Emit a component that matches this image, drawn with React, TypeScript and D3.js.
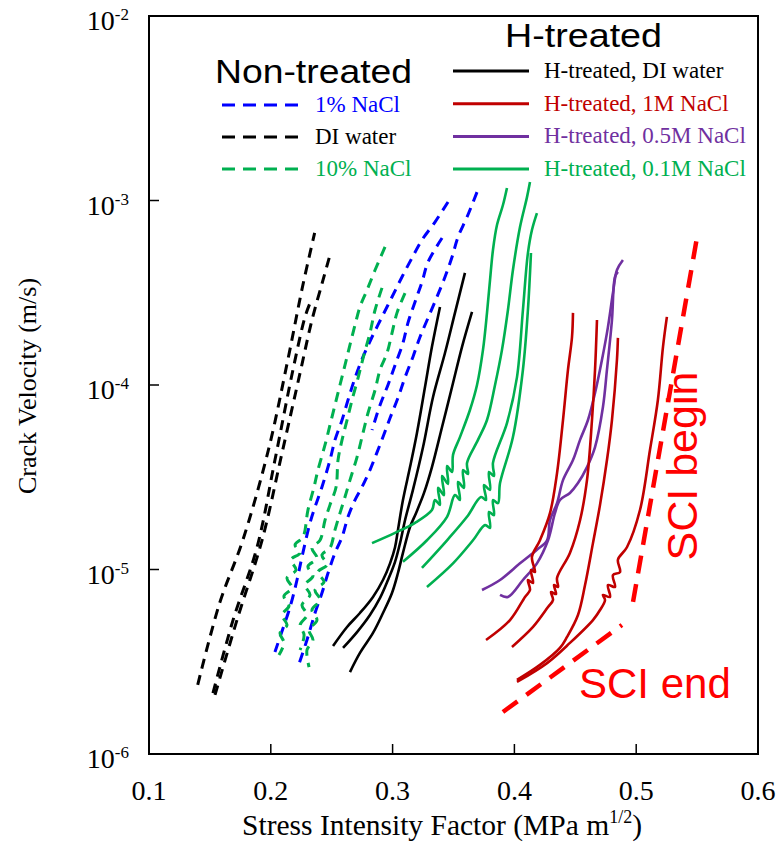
import React from "react";
import * as d3 from "d3";

// ---------- data (K in MPa·m^1/2, crack velocity in m/s) ----------
const xTicks = [0.1, 0.2, 0.3, 0.4, 0.5, 0.6];
const yExps = [-2, -3, -4, -5, -6];

// Non-treated, DI water (black dashed)
const nonDI1 = [[0.140,2.37e-6],[0.158,6.58e-6],[0.177,1.44e-5],[0.198,4.44e-5],[0.214,1.37e-4],[0.226,3.40e-4],[0.236,6.67e-4]];
const nonDI2 = [[0.1525,2.14e-6],[0.169,5.32e-6],[0.1887,1.32e-5],[0.2034,3.92e-5],[0.2182,1.21e-4],[0.2281,2.34e-4],[0.2322,2.78e-4]];
const nonDI3 = [[0.1542,2.09e-6],[0.1722,5.32e-6],[0.1928,1.44e-5],[0.2092,4.28e-5],[0.224,1.16e-4],[0.2338,2.25e-4],[0.2429,3.71e-4],[0.2486,5.07e-4]];

// Non-treated, 1% NaCl (blue dashed)
const nacl1A = [[0.3455,9.82e-4],[0.3348,7.64e-4],[0.3241,6.11e-4],[0.3159,4.88e-4],[0.3077,3.85e-4],[0.2995,3.00e-4],[0.2913,2.34e-4],[0.2831,1.82e-4],[0.2757,1.42e-4],[0.2691,1.09e-4],[0.2634,8.29e-5],[0.2585,6.46e-5],[0.2527,5.04e-5],[0.2486,3.92e-5],[0.2420,2.80e-5],[0.2363,2.18e-5],[0.2322,1.79e-5],[0.2256,1.17e-5],[0.2215,8.77e-6],[0.2158,6.26e-6],[0.2076,4.31e-6],[0.2034,3.57e-6]];
const nacl1B = [[0.3406,6.26e-4],[0.3291,4.64e-4],[0.3241,3.61e-4],[0.3184,2.82e-4],[0.3126,2.17e-4],[0.3085,1.69e-4],[0.3020,1.28e-4],[0.2962,1.00e-4],[0.2897,7.79e-5],[0.2831,5.70e-5]];
const nacl1C = [[0.3693,1.11e-3],[0.3611,8.14e-4],[0.3537,6.34e-4],[0.3488,4.94e-4],[0.3430,3.85e-4],[0.3364,3.00e-4],[0.3291,2.31e-4],[0.3225,1.82e-4],[0.3167,1.42e-4],[0.3102,1.10e-4],[0.3044,8.51e-5],[0.2979,6.62e-5],[0.2921,5.22e-5],[0.2864,4.18e-5],[0.2814,3.46e-5],[0.2749,2.80e-5],[0.2691,2.38e-5],[0.2634,1.93e-5],[0.2585,1.50e-5],[0.2527,1.23e-5],[0.2470,9.57e-6],[0.2420,7.46e-6],[0.2363,5.81e-6],[0.2297,4.15e-6],[0.2223,2.96e-6]];

// Non-treated, 10% NaCl (green dashed)
const nacl10A = [[0.2938,5.60e-4],[0.2856,4.20e-4],[0.2790,3.27e-4],[0.2732,2.65e-4],[0.2691,2.11e-4],[0.2650,1.65e-4],[0.2609,1.28e-4],[0.2568,1.00e-4],[0.2527,7.79e-5],[0.2486,6.07e-5],[0.2445,4.73e-5],[0.2387,3.46e-5],[0.2355,2.80e-5],[0.2305,2.10e-5],[0.2264,1.50e-5],[0.2199,1.36e-5],[0.2240,1.23e-5],[0.2166,1.13e-5],[0.2207,9.94e-6],[0.2133,8.99e-6],[0.2174,7.94e-6],[0.2108,7.18e-6],[0.2149,6.34e-6],[0.2092,5.67e-6],[0.2133,5.00e-6],[0.2076,4.53e-6],[0.2108,4.00e-6],[0.2067,3.44e-6]];
const nacl10B = [[0.2913,3.36e-4],[0.2856,2.55e-4],[0.2814,1.91e-4],[0.2765,1.46e-4],[0.2716,1.09e-4],[0.2667,8.29e-5],[0.2626,6.46e-5],[0.2585,5.04e-5],[0.2552,3.92e-5],[0.2536,2.80e-5],[0.2486,2.24e-5],[0.2445,1.85e-5],[0.2404,1.44e-5],[0.2338,1.31e-5],[0.2379,1.15e-5],[0.2305,1.04e-5],[0.2346,9.22e-6],[0.2281,8.24e-6],[0.2322,7.28e-6],[0.2256,6.42e-6],[0.2297,5.67e-6],[0.2240,5.00e-6],[0.2273,4.42e-6],[0.2240,3.66e-6]];
const nacl10C = [[0.3102,3.15e-4],[0.3036,2.46e-4],[0.2995,1.91e-4],[0.2954,1.49e-4],[0.2897,1.21e-4],[0.2856,9.39e-5],[0.2798,7.05e-5],[0.2757,5.50e-5],[0.2708,4.07e-5],[0.2650,3.05e-5],[0.2609,2.47e-5],[0.2568,2.02e-5],[0.2527,1.64e-5],[0.2486,1.31e-5],[0.2420,1.20e-5],[0.2461,1.06e-5],[0.2387,9.69e-6],[0.2437,8.56e-6],[0.2363,7.74e-6],[0.2404,6.84e-6],[0.2338,6.03e-6],[0.2379,5.32e-6],[0.2314,4.70e-6],[0.2346,4.15e-6],[0.2297,3.66e-6],[0.2314,2.96e-6]];

// H-treated, DI water (black solid)
const hDI1 = [[0.2511,3.85e-6],[0.2626,4.88e-6],[0.2732,5.81e-6],[0.2839,7.10e-6],[0.2921,8.77e-6],[0.2979,1.08e-5],[0.3020,1.32e-5],[0.3044,1.64e-5],[0.3085,2.38e-5],[0.3143,3.59e-5],[0.3200,5.50e-5],[0.3266,9.75e-5],[0.3323,1.61e-4],[0.3389,2.65e-4]];
const hDI2 = [[0.2593,3.76e-6],[0.2708,4.58e-6],[0.2814,5.67e-6],[0.2897,7.01e-6],[0.2962,8.77e-6],[0.3020,1.10e-5],[0.3061,1.39e-5],[0.3102,1.85e-5],[0.3167,2.70e-5],[0.3250,4.61e-5],[0.3332,8.61e-5],[0.3430,1.49e-4],[0.3512,2.46e-4],[0.3594,4.05e-4]];
const hDI3 = [[0.2650,2.78e-6],[0.2732,3.53e-6],[0.2839,4.53e-6],[0.2921,5.81e-6],[0.2995,7.46e-6],[0.3044,9.57e-6],[0.3085,1.23e-5],[0.3143,1.70e-5],[0.3192,2.02e-5],[0.3258,2.60e-5],[0.3323,3.59e-5],[0.3406,5.92e-5],[0.3488,9.75e-5],[0.3570,1.61e-4],[0.3652,2.49e-4]];

// H-treated, 1M NaCl (dark red solid)
const h1M_A = [[0.3767,4.15e-6],[0.3964,5.32e-6],[0.4087,7.10e-6],[0.4128,7.74e-6],[0.4111,8.77e-6],[0.4153,8.45e-6],[0.4136,9.94e-6],[0.4169,9.69e-6],[0.4144,1.17e-5],[0.4210,1.44e-5],[0.4292,2.02e-5],[0.4350,3.33e-5],[0.4399,6.46e-5],[0.4440,1.21e-4],[0.4473,1.82e-4],[0.4481,2.46e-4]];
const h1M_B = [[0.3980,3.80e-6],[0.4153,4.88e-6],[0.4276,6.26e-6],[0.4317,6.84e-6],[0.4301,7.55e-6],[0.4342,7.36e-6],[0.4325,8.24e-6],[0.4358,8.04e-6],[0.4350,8.99e-6],[0.4456,1.23e-5],[0.4539,1.85e-5],[0.4596,3.05e-5],[0.4637,6.46e-5],[0.4662,1.21e-4],[0.4678,2.25e-4]];
const h1M_C = [[0.4021,2.52e-6],[0.4210,3.04e-6],[0.4374,3.76e-6],[0.4432,4.31e-6],[0.4522,5.67e-6],[0.4580,8.24e-6],[0.4645,1.39e-5],[0.4703,2.24e-5],[0.4760,3.92e-5],[0.4801,6.46e-5],[0.4842,1.37e-4],[0.4850,1.80e-4]];
const h1M_D = [[0.4021,2.46e-6],[0.4268,3.11e-6],[0.4456,4.00e-6],[0.4645,5.32e-6],[0.4703,6.03e-6],[0.4744,6.84e-6],[0.4727,7.28e-6],[0.4785,7.10e-6],[0.4768,8.24e-6],[0.4826,8.04e-6],[0.4809,9.33e-6],[0.4867,9.69e-6],[0.4850,1.13e-5],[0.4924,1.32e-5],[0.5031,2.10e-5],[0.5113,4.44e-5],[0.5178,8.29e-5],[0.5220,1.61e-4],[0.5252,2.34e-4]];

// H-treated, 0.5M NaCl (purple solid)
const h05M_A = [[0.3734,7.74e-6],[0.3882,8.77e-6],[0.4046,1.08e-5],[0.4185,1.28e-5],[0.4268,1.44e-5],[0.4292,1.85e-5],[0.4350,2.29e-5],[0.4399,3.05e-5],[0.4481,3.92e-5],[0.4539,5.04e-5],[0.4604,6.46e-5],[0.4662,9.05e-5],[0.4719,1.37e-4],[0.4768,2.06e-4],[0.4809,3.15e-4],[0.4842,4.20e-4],[0.4891,4.76e-4]];
const h05M_B = [[0.3882,7.28e-6],[0.3947,7.10e-6],[0.4070,8.77e-6],[0.4185,1.08e-5],[0.4276,1.44e-5],[0.4333,2.02e-5],[0.4374,2.38e-5],[0.4456,2.60e-5],[0.4522,2.94e-5],[0.4596,3.59e-5],[0.4662,4.61e-5],[0.4727,7.60e-5],[0.4760,1.21e-4],[0.4801,2.25e-4],[0.4826,3.85e-4],[0.4850,4.10e-4]];

// H-treated, 0.1M NaCl (green solid)
const h01M_A = [[0.2831,1.39e-5],[0.3020,1.58e-5],[0.3184,1.79e-5],[0.3323,2.10e-5],[0.3348,2.38e-5],[0.3389,2.24e-5],[0.3373,2.77e-5],[0.3422,2.53e-5],[0.3406,3.21e-5],[0.3455,2.91e-5],[0.3447,3.64e-5],[0.3488,3.38e-5],[0.3496,4.18e-5],[0.3553,5.22e-5],[0.3635,7.32e-5],[0.3693,1.00e-4],[0.3742,1.55e-4],[0.3775,2.46e-4],[0.3800,3.71e-4],[0.3824,5.39e-4],[0.3857,7.36e-4],[0.3906,9.45e-4],[0.3939,1.17e-3]];
const h01M_B = [[0.3085,1.10e-5],[0.3282,1.44e-5],[0.3447,1.93e-5],[0.3512,2.53e-5],[0.3553,2.38e-5],[0.3537,2.98e-5],[0.3586,2.77e-5],[0.3578,3.46e-5],[0.3619,3.29e-5],[0.3611,3.78e-5],[0.3701,5.04e-5],[0.3775,6.46e-5],[0.3841,1.00e-4],[0.3898,1.55e-4],[0.3947,2.55e-4],[0.3988,4.20e-4],[0.4046,7.18e-4],[0.4103,1.04e-3],[0.4128,1.26e-3]];
const h01M_C = [[0.3241,1.02e-5],[0.3447,1.44e-5],[0.3611,1.93e-5],[0.3726,2.47e-5],[0.3767,2.38e-5],[0.3750,2.87e-5],[0.3800,2.70e-5],[0.3791,3.38e-5],[0.3832,3.21e-5],[0.3824,3.78e-5],[0.3939,6.22e-5],[0.4021,1.10e-4],[0.4070,2.55e-4],[0.4111,5.19e-4],[0.4144,6.92e-4],[0.4185,8.55e-4]];
const h01M_D = [[0.3282,8.04e-6],[0.3496,1.08e-5],[0.3660,1.44e-5],[0.3759,1.74e-5],[0.3800,1.68e-5],[0.3791,2.05e-5],[0.3832,1.97e-5],[0.3824,2.38e-5],[0.3865,2.29e-5],[0.3882,2.94e-5],[0.3988,5.22e-5],[0.4070,1.21e-4],[0.4111,2.55e-4],[0.4136,5.19e-4]];

// SCI guide lines
const sciBegin = [[0.4974,6.67e-6],[0.5507,6.75e-4]];
const sciEnd = [[0.3906,1.69e-6],[0.4883,5.00e-6]];

const nonLegend = [
  { label: "1% NaCl", color: "#0000FF" },
  { label: "DI water", color: "#000000" },
  { label: "10% NaCl", color: "#00B050" },
];
const hLegend = [
  { label: "H-treated, DI water", color: "#000000" },
  { label: "H-treated, 1M NaCl", color: "#C00000" },
  { label: "H-treated, 0.5M NaCl", color: "#7030A0" },
  { label: "H-treated, 0.1M NaCl", color: "#00B050" },
];

const seriesList = [
  { data: nonDI1, color: "#000000", dashed: true },
  { data: nonDI2, color: "#000000", dashed: true },
  { data: nonDI3, color: "#000000", dashed: true },
  { data: nacl1A, color: "#0000FF", dashed: true },
  { data: nacl1B, color: "#0000FF", dashed: true },
  { data: nacl1C, color: "#0000FF", dashed: true },
  { data: nacl10A, color: "#00B050", dashed: true },
  { data: nacl10B, color: "#00B050", dashed: true },
  { data: nacl10C, color: "#00B050", dashed: true },
  { data: hDI1, color: "#000000", dashed: false },
  { data: hDI2, color: "#000000", dashed: false },
  { data: hDI3, color: "#000000", dashed: false },
  { data: h01M_A, color: "#00B050", dashed: false },
  { data: h01M_B, color: "#00B050", dashed: false },
  { data: h01M_C, color: "#00B050", dashed: false },
  { data: h01M_D, color: "#00B050", dashed: false },
  { data: h05M_A, color: "#7030A0", dashed: false },
  { data: h05M_B, color: "#7030A0", dashed: false },
  { data: h1M_A, color: "#C00000", dashed: false },
  { data: h1M_B, color: "#C00000", dashed: false },
  { data: h1M_C, color: "#C00000", dashed: false },
  { data: h1M_D, color: "#C00000", dashed: false },
];

const W = 779;
const H = 844;
const M = { left: 149, right: 758, top: 16, bottom: 754 };
const SERIF = "'Liberation Serif', 'Times New Roman', serif";
const SANS = "'Liberation Sans', Arial, sans-serif";

export default function App() {
  const x = d3.scaleLinear().domain([0.1, 0.6]).range([M.left, M.right]);
  const y = d3.scaleLog().domain([1e-6, 1e-2]).range([M.bottom, M.top]);
  const line = d3
    .line<number[]>()
    .x((d) => x(d[0]))
    .y((d) => y(d[1]))
    .curve(d3.curveCatmullRom.alpha(0.5));
  const straight = d3
    .line<number[]>()
    .x((d) => x(d[0]))
    .y((d) => y(d[1]));

  return (
    <svg
      width={W}
      height={H}
      style={{ position: "absolute", left: 0, top: 0, background: "#fff" }}
    >
      <rect x={0} y={0} width={W} height={H} fill="#fff" />
      <defs>
        <clipPath id="plotClip">
          <rect x={M.left} y={M.top} width={M.right - M.left} height={M.bottom - M.top} />
        </clipPath>
      </defs>

      {/* data curves */}
      <g clipPath="url(#plotClip)" fill="none" strokeLinecap="butt" strokeLinejoin="round">
        {seriesList.map((s, i) => (
          <path
            key={i}
            d={line(s.data) || ""}
            stroke={s.color}
            strokeWidth={s.dashed ? 3 : 2.6}
            strokeDasharray={s.dashed ? "10,7" : undefined}
          />
        ))}
        <path d={straight(sciBegin) || ""} stroke="#FF0000" strokeWidth={4.5} strokeDasharray="18,11" />
        <path d={straight(sciEnd) || ""} stroke="#FF0000" strokeWidth={4.5} strokeDasharray="18,11" />
      </g>

      {/* frame */}
      <rect
        x={M.left}
        y={M.top}
        width={M.right - M.left}
        height={M.bottom - M.top}
        fill="none"
        stroke="#000"
        strokeWidth={2}
      />

      {/* x ticks & labels */}
      {xTicks.map((t) => (
        <g key={t}>
          {t > 0.1 && t < 0.6 && (
            <line x1={x(t)} x2={x(t)} y1={M.bottom} y2={M.bottom - 10} stroke="#000" strokeWidth={1.5} />
          )}
          <text x={x(t)} y={800} textAnchor="middle" fontFamily={SERIF} fontSize={28} fill="#000">
            {t.toFixed(1)}
          </text>
        </g>
      ))}

      {/* y ticks & labels */}
      {yExps.map((e) => {
        const yy = y(Math.pow(10, e));
        return (
          <g key={e}>
            {e > -6 && e < -2 && (
              <line x1={M.left} x2={M.left + 10} y1={yy} y2={yy} stroke="#000" strokeWidth={1.5} />
            )}
            <text x={129} y={yy + 14} textAnchor="end" fontFamily={SERIF} fontSize={28} fill="#000">
              10
              <tspan dy={-10} fontSize={17}>
                {String(e)}
              </tspan>
            </text>
          </g>
        );
      })}

      {/* axis titles */}
      <text x={442} y={835} textAnchor="middle" fontFamily={SERIF} fontSize={29.5} fill="#000">
        Stress Intensity Factor (MPa m
        <tspan dy={-12} fontSize={18}>1/2</tspan>
        <tspan dy={12}>)</tspan>
      </text>
      <text
        transform="translate(36,386) rotate(-90)"
        textAnchor="middle"
        fontFamily={SERIF}
        fontSize={26}
        fill="#000"
      >
        Crack Velocity (m/s)
      </text>

      {/* Non-treated legend */}
      <text x={215} y={83} fontFamily={SANS} fontSize={33} fill="#000" textLength={197} lengthAdjust="spacingAndGlyphs">
        Non-treated
      </text>
      {nonLegend.map((l, i) => (
        <g key={l.label}>
          <line x1={222} x2={298} y1={105 + i * 32} y2={105 + i * 32} stroke={l.color} strokeWidth={3} strokeDasharray="13,8" />
          <text x={315} y={112 + i * 32} fontFamily={SERIF} fontSize={23} fill={l.color}>
            {l.label}
          </text>
        </g>
      ))}

      {/* H-treated legend */}
      <text x={505} y={47} fontFamily={SANS} fontSize={33} fill="#000" textLength={157} lengthAdjust="spacingAndGlyphs">
        H-treated
      </text>
      {hLegend.map((l, i) => (
        <g key={l.label}>
          <line x1={453} x2={529} y1={71 + i * 32.7} y2={71 + i * 32.7} stroke={l.color} strokeWidth={3} />
          <text x={544} y={78 + i * 32.7} fontFamily={SERIF} fontSize={23} fill={l.color}>
            {l.label}
          </text>
        </g>
      ))}

      {/* SCI annotations */}
      <text
        transform="translate(697,466) rotate(-90)"
        textAnchor="middle"
        fontFamily={SANS}
        fontSize={43}
        fill="#FF0000"
      >
        SCI begin
      </text>
      <text x={579} y={698} fontFamily={SANS} fontSize={42} fill="#FF0000">
        SCI end
      </text>
    </svg>
  );
}
